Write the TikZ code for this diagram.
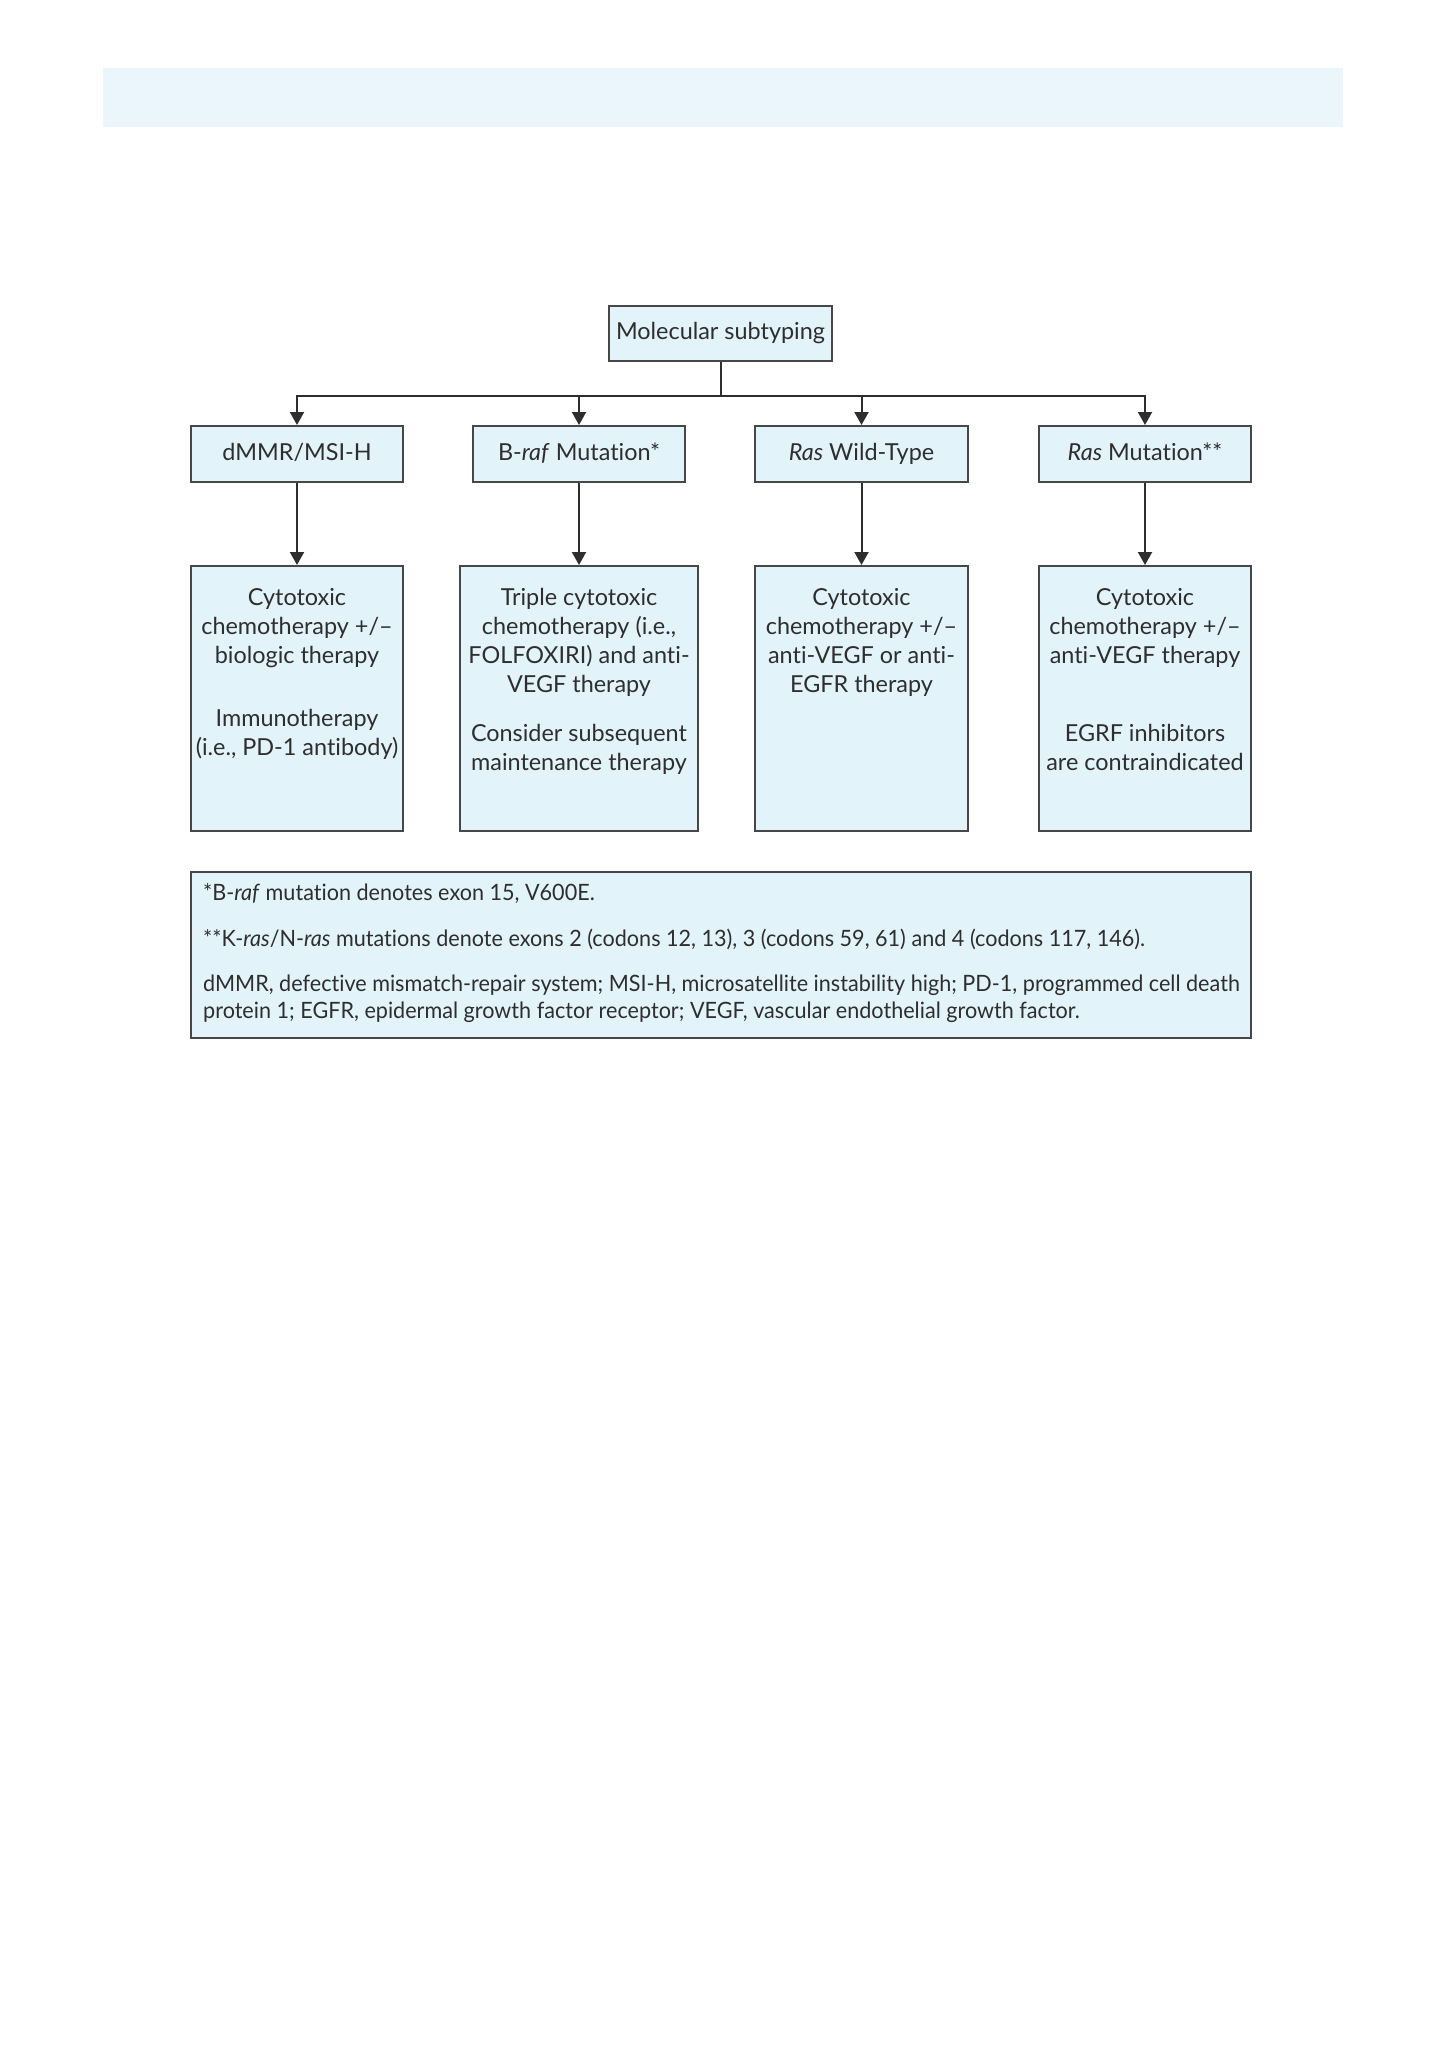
\documentclass[tikz,border=0pt]{standalone}
\usepackage{fontspec}
\setmainfont[Ligatures={NoCommon}]{Lato}
\newfontfamily\notefont[FakeStretch=0.96,Ligatures={NoCommon}]{Lato}
\usetikzlibrary{arrows.meta}
\definecolor{band}{HTML}{EBF6FC}
\definecolor{boxfill}{HTML}{E2F3FA}
\definecolor{edge}{HTML}{474747}
\definecolor{ink}{HTML}{2E2E2E}
\begin{document}
\begin{tikzpicture}[x=1pt,y=-1pt,
  box/.style={draw=edge, fill=boxfill, line width=2pt, inner sep=0pt, text=ink,
    font=\fontsize{23.4}{29}\selectfont},
  lbl/.style={box, text height=17pt, text depth=5pt},
  txt/.style={font=\fontsize{23.4}{29}\selectfont, text=ink, align=center, inner sep=0pt, anchor=north},
  note/.style={font=\notefont\fontsize{22.5}{27}\selectfont, text=ink, align=left, inner sep=0pt, anchor=north west},
  conn/.style={draw=ink, line width=2pt},
  arr/.style={conn, -{Triangle[length=13pt,width=14pt]}}]
\useasboundingbox (0,0) rectangle (1448,2050);
\fill[band] (103,68) rectangle (1343,127);

\node[lbl, minimum width=223pt, minimum height=55pt] (mol) at (720.5,333.5) {Molecular subtyping};

\node[lbl, minimum width=212pt, minimum height=56pt] (r1) at (297,454) {dMMR/MSI-H};
\node[lbl, minimum width=212pt, minimum height=56pt] (r2) at (579,454) {B-\textit{raf} Mutation*};
\node[lbl, minimum width=213pt, minimum height=56pt] (r3) at (861.5,454) {\textit{Ras} Wild-Type};
\node[lbl, minimum width=212pt, minimum height=56pt] (r4) at (1145,454) {\textit{Ras} Mutation**};

\node[box, minimum width=212pt, minimum height=265pt] (s1) at (297,698.5) {};
\node[box, minimum width=238pt, minimum height=265pt] (s2) at (579,698.5) {};
\node[box, minimum width=213pt, minimum height=265pt] (s3) at (861.5,698.5) {};
\node[box, minimum width=212pt, minimum height=265pt] (s4) at (1145,698.5) {};

\node[txt] (s1a) at (297,588) {Cytotoxic\\chemotherapy +/–\\biologic therapy};
\node[txt] (s1b) at (297,709) {Immunotherapy\\(i.e., PD-1 antibody)};
\node[txt] (s2a) at (579,588) {Triple cytotoxic\\chemotherapy (i.e.,\\FOLFOXIRI) and anti-\\VEGF therapy};
\node[txt] (s2b) at (579,724) {Consider subsequent\\maintenance therapy};
\node[txt] (s3a) at (861.5,588) {Cytotoxic\\chemotherapy +/–\\anti-VEGF or anti-\\EGFR therapy};
\node[txt] (s4a) at (1145,588) {Cytotoxic\\chemotherapy +/–\\anti-VEGF therapy};
\node[txt] (s4b) at (1145,724) {EGRF inhibitors\\are contraindicated};

\coordinate (hub) at (720.5,396);
\draw[conn] (mol.south) -- (hub);
\draw[arr] (hub) -| (r1.north);
\draw[arr] (hub) -| (r2.north);
\draw[arr] (hub) -| (r3.north);
\draw[arr] (hub) -| (r4.north);
\draw[arr] (r1.south) -- (s1.north);
\draw[arr] (r2.south) -- (s2.north);
\draw[arr] (r3.south) -- (s3.north);
\draw[arr] (r4.south) -- (s4.north);

\node[box, minimum width=1060pt, minimum height=166pt] (fn) at (721,955) {};
\node[note] (n1) at (203,883) {*B-\textit{raf} mutation denotes exon 15, V600E.};
\node[note] (n2) at (203,929) {**K-\textit{ras}/N-\textit{ras} mutations denote exons 2 (codons 12, 13), 3 (codons 59, 61) and 4 (codons 117, 146).};
\node[note] (n3) at (203,975) {dMMR, defective mismatch-repair system; MSI-H, microsatellite instability high; PD-1, programmed cell death\\protein 1; EGFR, epidermal growth factor receptor; VEGF, vascular endothelial growth factor.};
\end{tikzpicture}
\end{document}
